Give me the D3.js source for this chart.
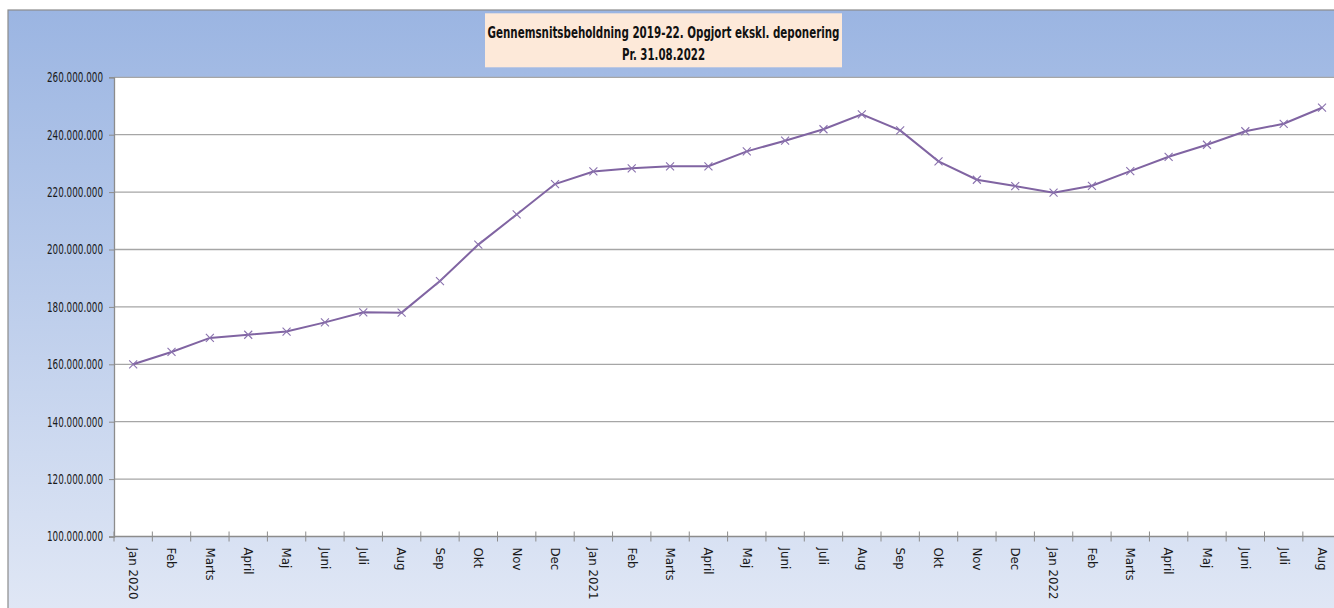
<!DOCTYPE html>
<html><head><meta charset="utf-8">
<script src="https://cdnjs.cloudflare.com/ajax/libs/d3/7.8.5/d3.min.js"></script>
<style>
html,body{margin:0;padding:0;background:#fff;}
svg{display:block;}
</style></head>
<body>
<svg id="chart" width="1334" height="608"></svg>
<script>
const titleLines = ["Gennemsnitsbeholdning 2019-22. Opgjort ekskl. deponering", "Pr. 31.08.2022"];
const months = ["Jan 2020","Feb","Marts","April","Maj","Juni","Juli","Aug","Sep","Okt","Nov","Dec",
  "Jan 2021","Feb","Marts","April","Maj","Juni","Juli","Aug","Sep","Okt","Nov","Dec",
  "Jan 2022","Feb","Marts","April","Maj","Juni","Juli","Aug"];
const values = [160.0,164.3,169.2,170.3,171.4,174.6,178.1,178.0,189.0,201.7,212.2,222.8,
  227.2,228.3,229.0,229.0,234.2,237.9,241.9,247.1,241.5,230.7,224.3,222.1,
  219.8,222.2,227.3,232.3,236.5,241.2,243.8,249.4].map(v => v * 1e6);
const yTicks = [100e6,120e6,140e6,160e6,180e6,200e6,220e6,240e6,260e6];

const svg = d3.select("#chart");
const W = 1334, H = 608;
const frame = {x: 8, y: 10};
const plot = {left: 114, top: 77.3, bottom: 536.5, step: 38.35};
const plotRight = plot.left + plot.step * months.length;
const narrow = "'Liberation Sans Narrow','DejaVu Sans Condensed',sans-serif";

const defs = svg.append("defs");
const grad = defs.append("linearGradient").attr("id","bg").attr("x1",0).attr("y1",0).attr("x2",0).attr("y2",1);
grad.append("stop").attr("offset","0%").attr("stop-color","#9bb5e2");
grad.append("stop").attr("offset","100%").attr("stop-color","#e0e7f5");

svg.append("rect").attr("x",frame.x).attr("y",frame.y).attr("width",W-frame.x+2).attr("height",H-frame.y+2)
  .attr("fill","url(#bg)").attr("stroke","#8c8c8c").attr("stroke-width",1.2);

// plot area
svg.append("rect").attr("x",plot.left).attr("y",plot.top).attr("width",plotRight-plot.left).attr("height",plot.bottom-plot.top).attr("fill","#fff");

const x = d3.scaleBand().domain(d3.range(months.length)).range([plot.left, plotRight]);
const y = d3.scaleLinear().domain([100e6,260e6]).range([plot.bottom, plot.top]);

// gridlines
svg.append("g").selectAll("line").data(yTicks.slice(1)).join("line")
  .attr("x1",plot.left).attr("x2",plotRight).attr("y1",d=>y(d)).attr("y2",d=>y(d))
  .attr("stroke","#a6a6a6").attr("stroke-width",1.3);

const fmt = d => d3.format(",")(d).replace(/,/g,".");
const yAxis = svg.append("g").attr("transform",`translate(${plot.left},0)`)
  .call(d3.axisLeft(y).tickValues(yTicks).tickFormat(fmt).tickSize(5).tickPadding(6));
yAxis.select(".domain").attr("stroke","#8c8c8c").attr("stroke-width",1.3);
yAxis.selectAll(".tick line").attr("stroke","#8c8c8c");
yAxis.selectAll("text").attr("font-family",narrow)
  .attr("font-size",13.8).attr("fill","#1a1a1a")
  .attr("textLength",56).attr("lengthAdjust","spacingAndGlyphs");

// x axis
const xAxisG = svg.append("g").attr("transform",`translate(0,${plot.bottom})`);
xAxisG.append("line").attr("x1",plot.left).attr("x2",plotRight).attr("stroke","#8c8c8c").attr("stroke-width",1.3);
xAxisG.selectAll("line.tk").data(d3.range(months.length+1)).join("line").attr("class","tk")
  .attr("x1",i=>plot.left+i*x.step()).attr("x2",i=>plot.left+i*x.step()).attr("y1",-5).attr("y2",5)
  .attr("stroke","#8c8c8c").attr("stroke-width",1);
xAxisG.selectAll("text").data(months).join("text")
  .attr("transform",(d,i)=>`translate(${x(i)+x.bandwidth()/2},11) rotate(90)`)
  .attr("dy","0.35em").attr("text-anchor","start")
  .attr("font-family","'DejaVu Sans',Verdana,sans-serif").attr("font-size",11.8)
  .attr("fill","#1a1a1a").text(d=>d);

// line
const cx = i => x(i) + x.bandwidth()/2;
svg.append("path").datum(values)
  .attr("d", d3.line().x((d,i)=>cx(i)).y(d=>y(d)))
  .attr("fill","none").attr("stroke","#8064a2").attr("stroke-width",2);
const s = 4;
svg.append("g").selectAll("path").data(values).join("path")
  .attr("d",(d,i)=>`M${cx(i)-s},${y(d)-s}L${cx(i)+s},${y(d)+s}M${cx(i)-s},${y(d)+s}L${cx(i)+s},${y(d)-s}`)
  .attr("stroke","#8a72ae").attr("stroke-width",1.1).attr("fill","none");

// title
const tb = {x: 485, y: 13.3, w: 357, h: 54};
svg.append("rect").attr("x",tb.x).attr("y",tb.y).attr("width",tb.w).attr("height",tb.h).attr("fill","#fde9d9");
svg.append("text").attr("x",tb.x+tb.w/2).attr("y",38).attr("text-anchor","middle")
  .attr("font-family",narrow).attr("font-weight","bold")
  .attr("font-size",16).attr("fill","#111").attr("textLength",352).attr("lengthAdjust","spacingAndGlyphs")
  .text(titleLines[0]);
svg.append("text").attr("x",tb.x+tb.w/2).attr("y",60).attr("text-anchor","middle")
  .attr("font-family",narrow).attr("font-weight","bold")
  .attr("font-size",16).attr("fill","#111").attr("textLength",83).attr("lengthAdjust","spacingAndGlyphs")
  .text(titleLines[1]);
</script>
</body></html>
